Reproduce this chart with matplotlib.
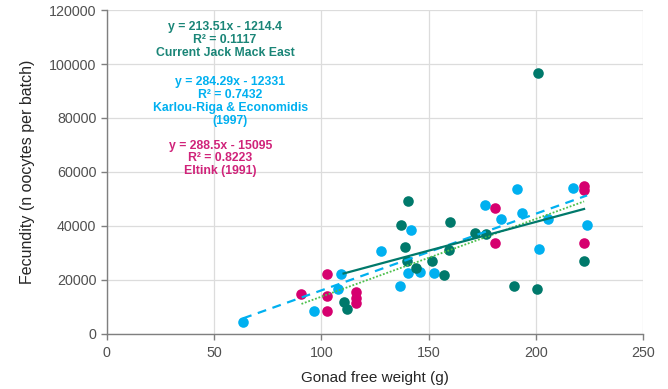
import matplotlib
matplotlib.use("Agg")
import matplotlib.pyplot as plt
import numpy as np

plt.rcParams['font.family'] = ['Liberation Sans', 'DejaVu Sans']

# Current Jack Mack East (teal)
jack_x = [110.3, 112.0, 136.9, 140.2, 138.8, 139.7, 143.9, 151.4, 157.0,
          159.8, 159.3, 171.5, 176.6, 189.7, 200.5, 200.9, 222.4]
jack_y = [11900, 9000, 40500, 49400, 32300, 26800, 24500, 26800, 21900,
          41600, 31200, 37500, 37100, 17800, 16700, 96600, 27100]

# Karlou-Riga & Economidis (1997) (cyan)
karlou_x = [63.5, 96.3, 107.5, 108.9, 127.6, 136.4, 140.2, 141.6, 145.8,
            152.3, 176.2, 183.6, 191.1, 193.5, 201.4, 205.6, 217.3, 223.8]
karlou_y = [4300, 8500, 16700, 22300, 30800, 17800, 22700, 38600, 23000,
            22700, 47900, 42700, 53500, 44600, 31600, 42700, 54200, 40500]

# Eltink (1991) (magenta)
eltink_x = [90.7, 102.8, 102.8, 102.8, 115.9, 115.9, 115.9, 180.8, 180.8,
            222.4, 222.4, 222.4]
eltink_y = [14900, 22300, 14100, 8500, 15500, 13300, 11300, 46800, 33800,
            54800, 53200, 33800]

# trendline coefficients (slope, intercept) as printed on the chart
jack_fit = (213.51, -1214.4)
karlou_fit = (284.29, -12331)
eltink_fit = (288.5, -15095)

TEAL = '#00796B'
CYAN = '#00B0F0'
MAGENTA = '#D6006F'
GREEN = '#4CC04C'

fig = plt.figure(figsize=(6.68, 3.89), dpi=100)
ax = fig.add_axes([0.160, 0.142, 0.803, 0.832])

ms = 58
ax.scatter(karlou_x, karlou_y, s=ms, color=CYAN, zorder=3, linewidths=0)
ax.scatter(eltink_x, eltink_y, s=ms, color=MAGENTA, zorder=3, linewidths=0)
ax.scatter(jack_x, jack_y, s=ms, color=TEAL, zorder=3, linewidths=0)


def trend(xs, fit):
    x = np.array([min(xs), max(xs)])
    return x, fit[0] * x + fit[1]


x, y = trend(eltink_x, eltink_fit)
ax.plot(x, y, color=GREEN, lw=1.3, ls=(0, (1, 1)), zorder=4)
x, y = trend(karlou_x, karlou_fit)
ax.plot(x, y, color=CYAN, lw=1.6, ls=(0, (4, 3)), zorder=4)
x, y = trend(jack_x, jack_fit)
ax.plot(x, y, color=TEAL, lw=1.6, zorder=4)

# equation labels
lab = dict(fontsize=8.8, fontweight='bold', ha='center', va='center',
           linespacing=1.1)
ax.text(55, 108800, "y = 213.51x - 1214.4\nR² = 0.1117\nCurrent Jack Mack East",
        color='#1A8577', **lab)
ax.text(57.5, 86000, "y = 284.29x - 12331\nR² = 0.7432\nKarlou-Riga & Economidis\n(1997)",
        color=CYAN, **lab)
ax.text(53, 65000, "y = 288.5x - 15095\nR² = 0.8223\nEltink (1991)",
        color='#D0237A', **lab)

ax.set_xlim(0, 250)
ax.set_ylim(0, 120000)
ax.set_xticks(np.arange(0, 251, 50))
ax.set_yticks(np.arange(0, 120001, 20000))
ax.grid(True, color='#DCDCDC', lw=0.9)
ax.set_axisbelow(True)

for s in ['top', 'right']:
    ax.spines[s].set_visible(False)
for s in ['left', 'bottom']:
    ax.spines[s].set_color('#7F7F7F')
    ax.spines[s].set_linewidth(1.0)

ax.tick_params(colors='#7F7F7F', labelcolor='#505050', labelsize=10.3,
               length=4, width=1)
ax.tick_params(axis='x', pad=5)

ax.set_xlabel("Gonad free weight (g)", fontsize=11, color='#262626', labelpad=8)
ax.set_ylabel("Fecundity (n oocytes per batch)", fontsize=11.5, color='#262626',
              labelpad=10)

fig.savefig("out.png", dpi=100)
